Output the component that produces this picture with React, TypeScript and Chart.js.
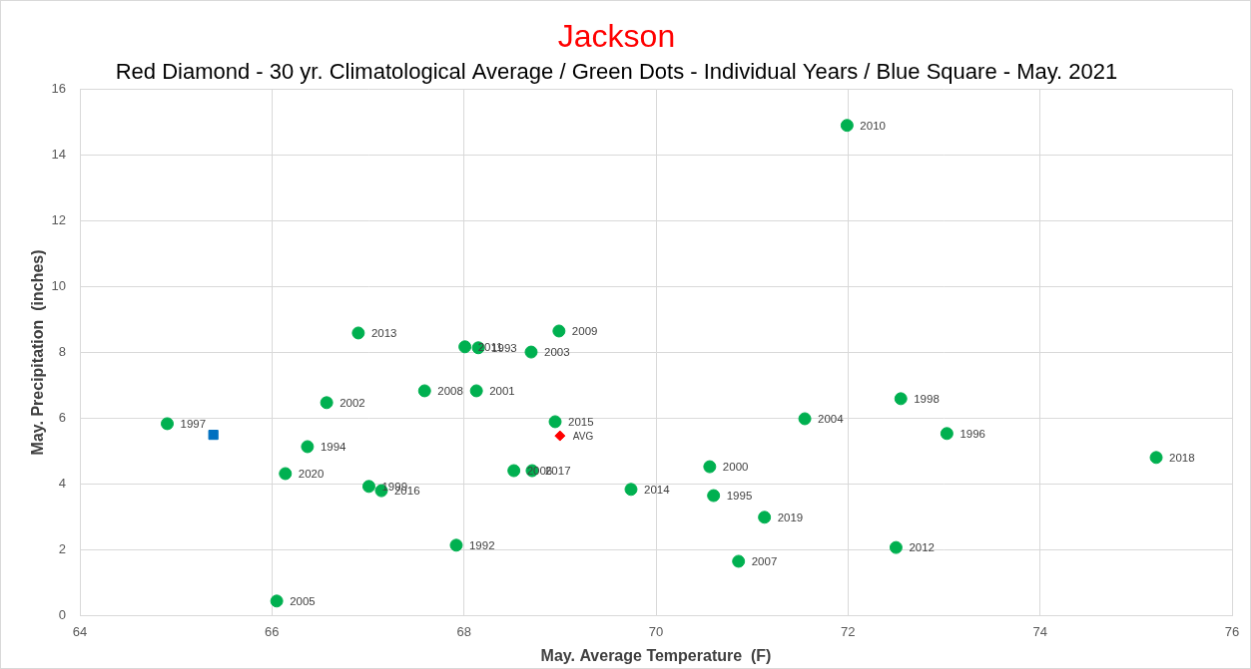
import React, { useEffect, useRef } from "react";
import { Chart, registerables } from "chart.js";

Chart.register(...registerables);

const years = ["1997","2020","1994","2002","2005","2013","1999","2016","2008","1992","2011","1993","2001","2006","2017","2003","2015","2009","2014","2000","1995","2007","2019","2004","2010","1998","2012","1996","2018"];
const temps = [64.91,66.14,66.37,66.57,66.05,66.9,67.01,67.14,67.59,67.92,68.01,68.15,68.13,68.52,68.71,68.7,68.95,68.99,69.74,70.56,70.6,70.86,71.13,71.55,71.99,72.55,72.5,73.03,75.21];
const precip = [5.83,4.31,5.13,6.47,0.43,8.59,3.92,3.79,6.83,2.13,8.17,8.14,6.83,4.4,4.4,8.01,5.89,8.65,3.83,4.52,3.64,1.64,2.98,5.98,14.91,6.59,2.06,5.53,4.8];
const avgPoint = { x: 69.0, y: 5.46, label: "AVG" };
const currentPoint = { x: 65.39, y: 5.49 };
const xTicks = [64, 66, 68, 70, 72, 74, 76];
const yTicks = [0, 2, 4, 6, 8, 10, 12, 14, 16];

const FONT = "'Liberation Sans', 'DejaVu Sans', sans-serif";

const labelPlugin = {
  id: "pointLabels",
  afterDatasetsDraw(chart: any) {
    const ctx = chart.ctx;
    ctx.save();
    ctx.textBaseline = "middle";
    ctx.textAlign = "left";
    const ds0 = chart.getDatasetMeta(0);
    ctx.font = `11.5px ${FONT}`;
    ctx.fillStyle = "#404040";
    ds0.data.forEach((el: any, i: number) => {
      ctx.fillText(years[i], el.x + 13, el.y + 1);
    });
    const ds1 = chart.getDatasetMeta(1);
    ctx.font = `10px ${FONT}`;
    ds1.data.forEach((el: any) => {
      ctx.fillText(avgPoint.label, el.x + 13, el.y + 1);
    });
    ctx.restore();
  },
};

export default function App() {
  const ref = useRef<HTMLCanvasElement>(null);
  useEffect(() => {
    document.body.style.margin = "0";
    const chart = new Chart(ref.current!, {
      type: "scatter",
      data: {
        datasets: [
          {
            label: "Years",
            data: temps.map((t, i) => ({ x: t, y: precip[i] })),
            backgroundColor: "#00b050",
            borderColor: "#00b050",
            pointRadius: 6,
            pointHoverRadius: 6,
          },
          {
            label: "AVG",
            data: [{ x: avgPoint.x, y: avgPoint.y }],
            backgroundColor: "#ff0000",
            borderColor: "#ff0000",
            pointStyle: "rectRot",
            pointRadius: 5,
          },
          {
            label: "2021",
            data: [currentPoint],
            backgroundColor: "#0070c0",
            borderColor: "#0070c0",
            pointStyle: "rect",
            pointRadius: 6.5,
          },
        ],
      },
      options: {
        animation: false,
        responsive: false,
        layout: { padding: { left: 0, right: 18, top: 0, bottom: 0 } },
        plugins: {
          legend: { display: false },
          tooltip: { enabled: false },
          title: {
            display: true,
            text: "Jackson",
            color: "#ff0000",
            font: { family: FONT, size: 32, weight: "normal" },
            padding: { top: 18, bottom: 2 },
          },
          subtitle: {
            display: true,
            text: "Red Diamond - 30 yr. Climatological Average / Green Dots - Individual Years / Blue Square - May. 2021",
            color: "#000000",
            font: { family: FONT, size: 22, weight: "normal" },
            padding: { bottom: 4 },
          },
        },
        scales: {
          x: {
            type: "linear",
            min: 64,
            max: 76,
            afterBuildTicks: (s: any) => { s.ticks = xTicks.map((v) => ({ value: v })); },
            afterFit: (s: any) => { s.height = 53; },
            ticks: { color: "#595959", font: { family: FONT, size: 13 }, padding: 10 },
            grid: { color: "#d9d9d9", drawTicks: false },
            border: { color: "#d9d9d9" },
            title: {
              display: true,
              text: "May. Average Temperature  (F)",
              color: "#404040",
              font: { family: FONT, size: 16, weight: "bold" },
              padding: { top: 4, bottom: 2 },
            },
          },
          y: {
            type: "linear",
            min: 0,
            max: 16,
            afterBuildTicks: (s: any) => { s.ticks = yTicks.map((v) => ({ value: v })); },
            afterFit: (s: any) => { s.width = 79; },
            ticks: { color: "#595959", font: { family: FONT, size: 13 }, padding: 14 },
            grid: { color: "#d9d9d9", drawTicks: false },
            border: { color: "#d9d9d9" },
            title: {
              display: true,
              text: "May. Precipitation  (inches)",
              color: "#404040",
              font: { family: FONT, size: 16, weight: "bold" },
              padding: { top: 28, bottom: 4 },
            },
          },
        },
      },
      plugins: [labelPlugin],
    });
    return () => chart.destroy();
  }, []);
  return (
    <div style={{ position: "absolute", left: 0, top: 0, width: 1251, height: 669, background: "#fff" }}>
      <canvas ref={ref} width={1251} height={669} style={{ display: "block", boxSizing: "border-box", border: "1px solid #d9d9d9" }} />
    </div>
  );
}
